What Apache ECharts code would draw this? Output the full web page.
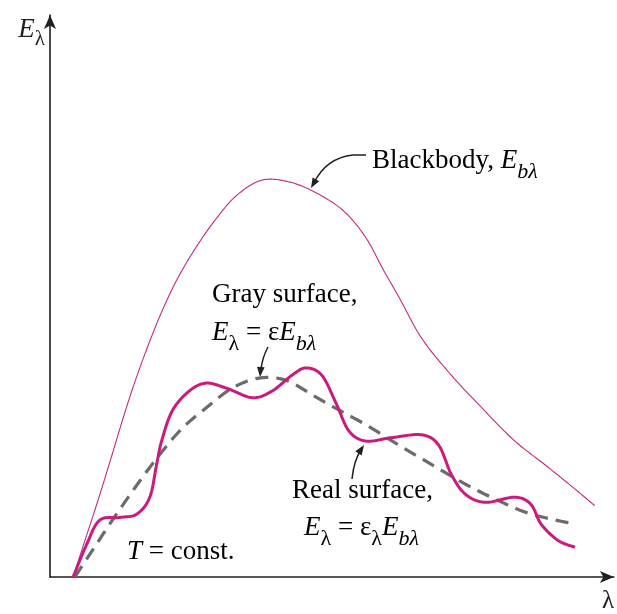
<!DOCTYPE html>
<html>
<head>
<meta charset="utf-8">
<script src="https://cdn.jsdelivr.net/npm/echarts@6/dist/echarts.min.js"></script>
<style>
html,body{margin:0;padding:0;background:#fff;}
#c{width:617px;height:614px;}
</style>
</head>
<body>
<div id="c"></div>
<script>
// wavelength (arbitrary units) vs emissive power (arbitrary units)
const blackbody = [
  [0.41,0],[0.62,0.65],[0.85,1.36],[1.06,2.04],[1.27,2.74],[1.48,3.40],[1.71,4.04],
  [1.96,4.67],[2.24,5.27],[2.56,5.82],[2.92,6.34],[3.30,6.78],[3.75,7.06],[4.24,7.03],
  [4.73,6.83],[5.21,6.51],[5.60,6.04],[5.92,5.45],[6.20,4.96],[6.59,4.25],[7.10,3.61],
  [7.63,3.04],[8.22,2.44],[8.80,1.98],[9.28,1.59],[9.66,1.27]
];
const graySurface = [
  [0.44,0],[0.71,0.41],[1.18,1.12],[1.77,1.95],[2.30,2.60],[2.77,3.01],[3.23,3.36],
  [3.71,3.54],[4.19,3.50],[4.65,3.24],[5.00,3.04],[5.60,2.71],[6.18,2.35],[6.77,2.00],
  [7.37,1.65],[7.95,1.36],[8.53,1.12],[9.31,0.94]
];
const realSurface = [
  [0.41,0],[0.65,0.58],[0.88,1.01],[1.24,1.06],[1.54,1.12],[1.77,1.42],[1.89,2.00],
  [1.98,2.42],[2.17,2.96],[2.47,3.31],[2.77,3.45],[3.13,3.36],[3.59,3.19],[3.94,3.31],
  [4.29,3.59],[4.54,3.72],[4.82,3.59],[5.07,3.10],[5.30,2.60],[5.60,2.42],[6.06,2.48],
  [6.59,2.53],[6.89,2.35],[7.12,1.82],[7.37,1.47],[7.72,1.33],[8.25,1.42],[8.53,1.29],
  [8.71,0.94],[9.01,0.65],[9.31,0.53]
];
const xAxisName = 'λ';
const yAxisName = ['E', 'λ'];

const SERIF = '"Liberation Serif","DejaVu Serif",serif';
const INK = '#231f20';

const chart = echarts.init(document.getElementById('c'), null, {renderer: 'canvas'});

// Catmull-Rom spline through pixel points (drawing helper only)
function spline(pts) {
  const out = [];
  const n = pts.length;
  for (let i = 0; i < n - 1; i++) {
    const p0 = pts[i - 1] || pts[i], p1 = pts[i], p2 = pts[i + 1], p3 = pts[i + 2] || pts[i + 1];
    const c1 = [p1[0] + (p2[0] - p0[0]) / 6, p1[1] + (p2[1] - p0[1]) / 6];
    const c2 = [p2[0] - (p3[0] - p1[0]) / 6, p2[1] - (p3[1] - p1[1]) / 6];
    const steps = 16;
    for (let s = 0; s < steps; s++) {
      const t = s / steps, u = 1 - t;
      out.push([
        u*u*u*p1[0] + 3*u*u*t*c1[0] + 3*u*t*t*c2[0] + t*t*t*p2[0],
        u*u*u*p1[1] + 3*u*u*t*c1[1] + 3*u*t*t*c2[1] + t*t*t*p2[1]
      ]);
    }
  }
  out.push(pts[n - 1]);
  return out;
}
function curveSeries(name, data, style, z) {
  return {
    name: name, type: 'custom', coordinateSystem: 'cartesian2d', data: data,
    encode: {x: 0, y: 1}, silent: true, z: z, clip: false,
    renderItem: function (params, api) {
      if (params.dataIndex !== 0) return null;
      const px = data.map(function (d) { return api.coord(d); });
      return {type: 'polyline', shape: {points: spline(px)},
        style: Object.assign({fill: null, lineJoin: 'round', lineCap: 'butt'}, style)};
    }
  };
}

const rich = {
  n: {fontFamily: SERIF, fontSize: 27, color: INK, lineHeight: 32},
  i: {fontFamily: SERIF, fontSize: 27, fontStyle: 'italic', color: INK, lineHeight: 32},
  s: {fontFamily: SERIF, fontSize: 22, fontStyle: 'italic', color: INK, lineHeight: 22, padding: [16, 0, 0, 0], verticalAlign: 'top'},
  su: {fontFamily: SERIF, fontSize: 22, color: INK, lineHeight: 22, padding: [16, 0, 0, 0], verticalAlign: 'top'}
};

function label(x, y, text) {
  return {type: 'text', x: x, y: y, silent: true,
    style: {text: text, rich: rich, align: 'left', verticalAlign: 'top'}};
}
function arrowHead(tx, ty, cx, cy, len, half) {
  const dx = tx - cx, dy = ty - cy, L = Math.hypot(dx, dy);
  const ux = dx / L, uy = dy / L;
  const bx = tx - ux * len, by = ty - uy * len;
  return {type: 'polygon', silent: true,
    shape: {points: [[tx, ty], [bx - uy * half, by + ux * half], [bx + uy * half, by - ux * half]]},
    style: {fill: INK}};
}
function qcurve(x1, y1, cx, cy, x2, y2) {
  return {type: 'bezierCurve', silent: true,
    shape: {x1: x1, y1: y1, cpx1: cx, cpy1: cy, x2: x2, y2: y2},
    style: {stroke: INK, lineWidth: 1.5, fill: null}};
}
function seg(x1, y1, x2, y2) {
  return {type: 'line', silent: true, shape: {x1: x1, y1: y1, x2: x2, y2: y2},
    style: {stroke: INK, lineWidth: 1.5}};
}

chart.setOption({
  animation: false,
  backgroundColor: '#fff',
  grid: {left: 50, right: 1, top: 15, bottom: 34, containLabel: false},
  xAxis: {
    type: 'value', min: 0, max: 10,
    name: xAxisName, nameLocation: 'end', nameGap: -12,
    nameTextStyle: {fontFamily: SERIF, fontSize: 25, color: INK, verticalAlign: 'top', align: 'left', padding: [12, 0, 0, 0]},
    axisLine: {show: true, symbol: ['none', 'arrow'], symbolSize: [9, 14],
      lineStyle: {color: INK, width: 1.6}},
    axisTick: {show: false}, axisLabel: {show: false}, splitLine: {show: false}
  },
  yAxis: {
    type: 'value', min: 0, max: 10,
    name: '{i|' + yAxisName[0] + '}{su|' + yAxisName[1] + '}', nameLocation: 'end', nameGap: -30,
    nameTextStyle: {align: 'right', verticalAlign: 'bottom', padding: [0, 5, 0, 0], rich: {
      i: {fontFamily: SERIF, fontSize: 27, fontStyle: 'italic', color: INK, lineHeight: 30},
      su: {fontFamily: SERIF, fontSize: 21, color: INK, lineHeight: 21, padding: [14, 0, 0, 0], verticalAlign: 'top'}
    }},
    axisLine: {show: true, symbol: ['none', 'arrow'], symbolSize: [9, 14],
      lineStyle: {color: INK, width: 1.6}},
    axisTick: {show: false}, axisLabel: {show: false}, splitLine: {show: false}
  },
  series: [
    curveSeries('Blackbody', blackbody, {stroke: '#c42a80', lineWidth: 1.1}, 2),
    curveSeries('Gray surface', graySurface, {stroke: '#6b6b6b', lineWidth: 3.2, lineDash: [13, 8]}, 3),
    curveSeries('Real surface', realSurface, {stroke: '#cc1a7c', lineWidth: 3}, 4)
  ],
  graphic: [
    label(372, 145, '{n|Blackbody, }{i|E}{s|bλ}'),
    label(212, 279, '{n|Gray surface,}'),
    label(212, 317, '{i|E}{su|λ}{n| = ε}{i|E}{s|bλ}'),
    label(292, 475, '{n|Real surface,}'),
    label(304, 512, '{i|E}{su|λ}{n| = ε}{su|λ}{i|E}{s|bλ}'),
    label(127, 536, '{i|T}{n| = const.}'),
    seg(366, 155, 353, 155),
    qcurve(353, 155, 326, 158, 314, 183),
    arrowHead(311, 188, 320, 172, 10, 3.8),
    qcurve(268, 347, 262, 358, 261, 370),
    arrowHead(260, 377, 261, 365, 10, 3.8),
    qcurve(352, 479, 354, 460, 361, 450),
    arrowHead(364, 445, 358, 454, 10, 3.8)
  ]
});
</script>
</body>
</html>
